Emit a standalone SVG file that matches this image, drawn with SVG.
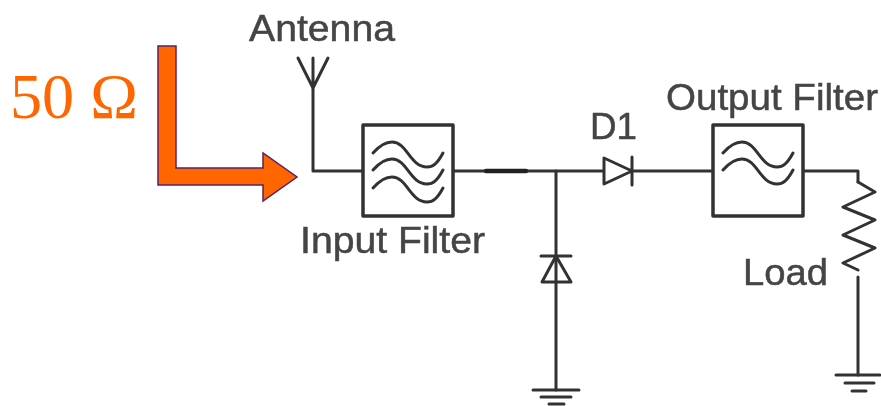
<svg xmlns="http://www.w3.org/2000/svg" width="881" height="406" viewBox="0 0 881 406">
<style>
.w{fill:none;stroke:#333;stroke-width:3;stroke-linejoin:round;stroke-linecap:round}
.b{fill:#fff;stroke:#333;stroke-width:3.5;stroke-linejoin:round}
.t{font-family:"Liberation Sans",Arial,sans-serif;font-size:37px;fill:#444;stroke:#444;stroke-width:.5}
.n{fill:none;stroke:#333;stroke-width:3;stroke-linecap:round}
</style>
<defs><filter id="s" x="-5%" y="-5%" width="110%" height="110%"><feGaussianBlur stdDeviation="0.7"/></filter>
<path id="wv" d="M0 11C8 2 14 0 19 0C34 0 37 25 54 25C60 25 64 22 70 11"/></defs>
<rect width="881" height="406" fill="#fff"/>
<g filter="url(#s)">
<g id="connectors">
<path class="w" d="M313 89V171H363"/>
<path class="w" d="M453 171H603M632 171H713"/>
<path class="w" d="M486 171H526" style="stroke-width:4.5;stroke:#222"/>
<path class="w" d="M556 171V390"/>
<path class="w" d="M803 171H858V182"/>
<path class="w" d="M858 277V375"/>
</g>
<g id="antenna"><path class="w" d="M298 58L313 88L328 58M313 58V88"/><text class="t" x="249" y="41" textLength="146" lengthAdjust="spacingAndGlyphs">Antenna</text></g>
<g id="input-filter"><rect class="b" x="363" y="125" width="90" height="91"/>
<g transform="translate(373,142)"><use href="#wv" class="n"/><use href="#wv" class="n" y="17"/><use href="#wv" class="n" y="35"/></g>
<text class="t" x="300" y="253" textLength="185" lengthAdjust="spacingAndGlyphs">Input Filter</text></g>
<g id="d1"><path class="w" style="fill:#fff" d="M604 158V184L632 171ZM632 157V185"/><text class="t" x="590" y="139" textLength="47" lengthAdjust="spacingAndGlyphs">D1</text></g>
<g id="output-filter"><rect class="b" x="713" y="125" width="90" height="91"/>
<g transform="translate(723,142)"><use href="#wv" class="n"/><use href="#wv" class="n" y="17"/></g>
<text class="t" x="666" y="110" textLength="212" lengthAdjust="spacingAndGlyphs">Output Filter</text></g>
<g id="load"><path class="w" d="M858 182L875 192L843 207L875 220L843 235L875 248L843 263L858 270"/><text class="t" x="743" y="285" textLength="85" lengthAdjust="spacingAndGlyphs">Load</text></g>
<g id="shunt-diode"><path class="w" style="fill:#fff" d="M556 256L542 282H571ZM541 256H571"/><path class="w" d="M556 256V282"/></g>
<g id="ground-1"><path class="w" d="M533 390H579M541 397H571M549 404H564"/></g>
<g id="ground-2"><path class="w" d="M836 375H880M845 383H874M852 391H866"/></g>
<g id="impedance"><text x="10" y="118" style="font-family:'Liberation Serif','Times New Roman',serif;font-size:63px;fill:#ff6600" textLength="128" lengthAdjust="spacingAndGlyphs">50 Ω</text>
<path d="M158 46H176V168H263V153L297 177L263 201V185H158Z" fill="#ff6600" stroke="#5a2060" stroke-width="1.5"/></g>
</g>
</svg>
